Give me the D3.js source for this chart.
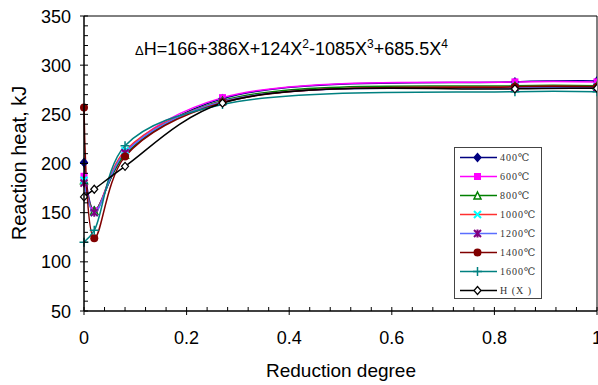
<!DOCTYPE html>
<html><head><meta charset="utf-8">
<script src="https://cdn.jsdelivr.net/npm/d3@7"></script>
<style>body{margin:0;background:#fff}svg{display:block}</style>
</head><body>
<svg id="c" width="598" height="385"></svg>
<script>
const xVals = [0, 0.02, 0.08, 0.27, 0.84, 1.0];
const t400  = [201, 152, 209, 266, 283, 284];
const t600  = [187, 152, 212, 267, 283, 283];
const t800  = [183, 152, 209, 264, 279, 279];
const t1000 = [183, 150, 213, 263, 278, 278];
const t1200 = [180, 150, 211, 263, 277, 277];
const t1400 = [257, 124, 207, 262, 278, 278];
const t1600 = [120, 132, 218, 260, 273, 273];
const hX    = [166, 173.8, 197.1, 261.5, 275.9, 276.5];
const seriesNames = ["400℃","600℃","800℃","1000℃","1200℃","1400℃","1600℃","H (X )"];
const xTicks = [0, 0.2, 0.4, 0.6, 0.8, 1];
const xTickLabels = ["0","0.2","0.4","0.6","0.8","1"];
const yTicks = [50,100,150,200,250,300,350];

const styles = [
  {line:"#000080", mk:"diamond", fill:"#000080", stroke:"#000080"},
  {line:"#FF00FF", mk:"square", fill:"#FF00FF", stroke:"#FF00FF"},
  {line:"#008000", mk:"triangle", fill:"#fff", stroke:"#008000"},
  {line:"#FF3030", mk:"x", fill:"none", stroke:"#00FFFF"},
  {line:"#5A6EFF", mk:"star", fill:"none", stroke:"#800080"},
  {line:"#800000", mk:"circle", fill:"#800000", stroke:"#800000"},
  {line:"#008080", mk:"plus", fill:"none", stroke:"#008080"},
  {line:"#000000", mk:"diamondOpen", fill:"#fff", stroke:"#000000"}
];
const data = [t400,t600,t800,t1000,t1200,t1400,t1600,hX];

const svg = d3.select("#c");
const x = d3.scaleLinear().domain([0,1]).range([84,597]);
const y = d3.scaleLinear().domain([50,350]).range([311,16]);

svg.append("path").attr("d",`M${x(0)},${y(350)}H${x(1)}V${y(50)}`).attr("fill","none").attr("stroke","#000").attr("stroke-width",1);

svg.append("clipPath").attr("id","clp").append("rect")
  .attr("x",x(0)-8).attr("y",y(350)).attr("width",x(1)-x(0)+8).attr("height",y(50)-y(350));

const g = svg.append("g").attr("clip-path","url(#clp)");
const line = d3.line().x(d=>x(d[0])).y(d=>y(d[1])).curve(d3.curveCatmullRom.alpha(0.5));

function marker(sel, type, s){
  const r = 3.5;
  if(type==="diamond"||type==="diamondOpen"){
    sel.append("path").attr("d",`M0,${-r-0.5}L${r},0L0,${r+0.5}L${-r},0Z`)
      .attr("fill",s.fill).attr("stroke",s.stroke).attr("stroke-width",1.2);
  } else if(type==="square"){
    sel.append("rect").attr("x",-r).attr("y",-r).attr("width",2*r).attr("height",2*r).attr("fill",s.fill);
  } else if(type==="triangle"){
    sel.append("path").attr("d",`M0,${-r}L${r},${r}L${-r},${r}Z`).attr("fill",s.fill).attr("stroke",s.stroke).attr("stroke-width",1.5);
  } else if(type==="x"){
    sel.append("path").attr("d",`M${-r},${-r}L${r},${r}M${-r},${r}L${r},${-r}`).attr("stroke",s.stroke).attr("stroke-width",2);
  } else if(type==="star"){
    sel.append("path").attr("d",`M${-r},${-r}L${r},${r}M${-r},${r}L${r},${-r}M0,${-r-0.5}V${r+0.5}`).attr("stroke",s.stroke).attr("stroke-width",2);
  } else if(type==="circle"){
    sel.append("circle").attr("r",r+0.5).attr("fill",s.fill);
  } else if(type==="plus"){
    sel.append("path").attr("d",`M${-r-1},0H${r+1}M0,${-r-1}V${r+1}`).attr("stroke",s.stroke).attr("stroke-width",1.5);
  }
}

data.forEach((vals,i)=>{
  const pts = xVals.map((xv,j)=>[xv, vals[j]]);
  g.append("path").attr("d",line(pts)).attr("fill","none").attr("stroke",styles[i].line).attr("stroke-width",1.5);
});
data.forEach((vals,i)=>{
  xVals.forEach((xv,j)=>{
    const m = g.append("g").attr("transform",`translate(${x(xv)},${y(vals[j])})`);
    marker(m, styles[i].mk, styles[i]);
  });
});

const ax = svg.append("g").attr("stroke","#000");
ax.append("line").attr("x1",x(0)).attr("x2",x(0)).attr("y1",y(350)).attr("y2",y(50)).attr("stroke-width",1.5);
ax.append("line").attr("x1",x(0)).attr("x2",x(1)).attr("y1",y(50)).attr("y2",y(50)).attr("stroke-width",1.5);
d3.range(50,351,10).forEach(v=>{
  const major = v%50===0;
  ax.append("line").attr("x1",major?x(0)-4:x(0)).attr("x2",x(0)+4).attr("y1",y(v)).attr("y2",y(v)).attr("stroke-width",1);
});
d3.range(0,26).forEach(k=>{
  const v = k*0.04;
  const major = k%5===0;
  ax.append("line").attr("x1",x(v)).attr("x2",x(v)).attr("y1",y(50)-4).attr("y2",major?y(50)+4:y(50)).attr("stroke-width",1);
});

const font = "Arial, 'Liberation Sans', sans-serif";
svg.append("g").selectAll("text").data(yTicks).join("text")
  .attr("x",71).attr("y",d=>y(d)+6.5).attr("text-anchor","end")
  .attr("font-family",font).attr("font-size",18).attr("fill","#000").text(d=>d);
svg.append("g").selectAll("text").data(xTicks).join("text")
  .attr("x",d=>x(d)).attr("y",344).attr("text-anchor","middle")
  .attr("font-family",font).attr("font-size",18).attr("fill","#000").text((d,i)=>xTickLabels[i]);

svg.append("text").attr("transform","translate(26,163) rotate(-90)").attr("text-anchor","middle")
  .attr("font-family",font).attr("font-size",20).text("Reaction heat, kJ");
svg.append("text").attr("x",341).attr("y",377).attr("text-anchor","middle")
  .attr("font-family",font).attr("font-size",19).text("Reduction degree");

const ft = svg.append("text").attr("x",135).attr("y",55).attr("font-family",font).attr("font-size",18);
ft.append("tspan").attr("font-size",13).text("Δ");
ft.append("tspan").text("H=166+386X+124X");
ft.append("tspan").attr("font-size",12).attr("dy",-7).text("2");
ft.append("tspan").attr("dy",7).text("-1085X");
ft.append("tspan").attr("font-size",12).attr("dy",-7).text("3");
ft.append("tspan").attr("dy",7).text("+685.5X");
ft.append("tspan").attr("font-size",12).attr("dy",-7).text("4");

const lg = svg.append("g");
lg.append("rect").attr("x",454.5).attr("y",147.5).attr("width",87).attr("height",151)
  .attr("fill","#fff").attr("stroke","#444").attr("stroke-width",1);
seriesNames.forEach((nm,i)=>{
  const yy = 157.5 + i*19;
  lg.append("line").attr("x1",460).attr("x2",497).attr("y1",yy).attr("y2",yy).attr("stroke",styles[i].line).attr("stroke-width",1.5);
  const m = lg.append("g").attr("transform",`translate(477.5,${yy})`);
  marker(m, styles[i].mk, styles[i]);
  lg.append("text").attr("x",500).attr("y",yy+3.5).attr("font-family","'Liberation Serif', 'DejaVu Serif', serif")
    .attr("font-size",10).attr("letter-spacing",1).attr("fill","#333").text(nm);
});
</script>
</body></html>
